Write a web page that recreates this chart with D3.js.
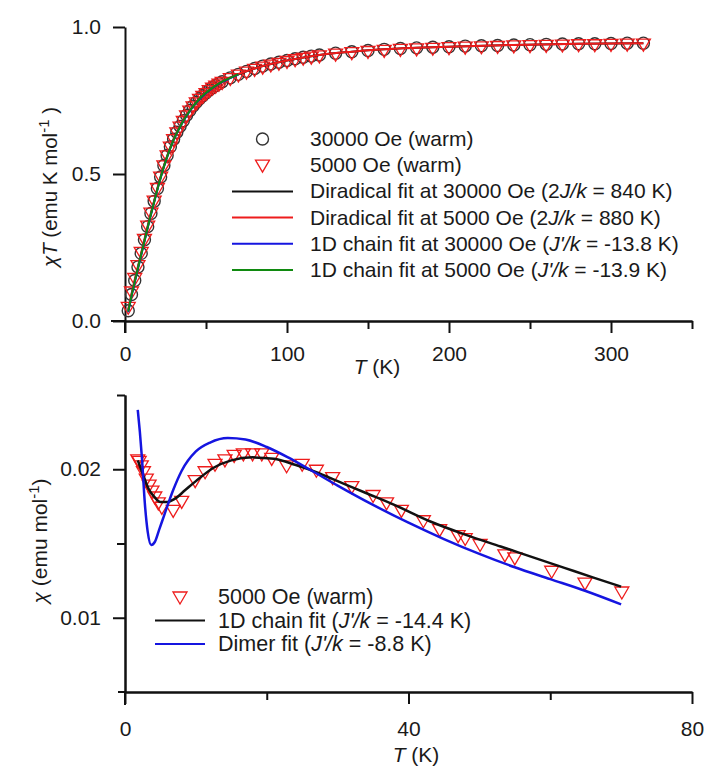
<!DOCTYPE html>
<html>
<head>
<meta charset="utf-8">
<script src="https://cdnjs.cloudflare.com/ajax/libs/d3/7.8.5/d3.min.js"></script>
<style>
body { margin: 0; background: #fff; }
text { font-family: "Liberation Sans", Arial, sans-serif; fill: #1a1a1a; }
</style>
</head>
<body>
<div id="root"></div>
<script>
/* top panel: chi*T vs T, measured points */
var topT = [2,4,6,8,10,12,14,16,18,20,22,24,26,28,30,32,34,36,38,40,42,44,46,48,50,52,54,56,58,60,
	65,70,75,80,85,90,95,100,105,110,115,120,
	130,140,150,160,170,180,190,200,210,220,230,240,250,260,270,280,290,300,310,320];
var chiT30000 = [0.035,0.09,0.138,0.184,0.23,0.276,0.321,0.366,0.407,0.451,0.49,0.529,0.563,0.593,0.618,0.642,0.662,0.681,0.70,0.716,0.731,0.744,0.756,0.766,0.776,0.786,0.794,0.801,0.808,0.814,
	0.827,0.839,0.849,0.859,0.867,0.874,0.88,0.886,0.892,0.897,0.901,0.905,
	0.911,0.916,0.92,0.924,0.927,0.929,0.931,0.933,0.935,0.936,0.937,0.939,0.94,0.941,0.942,0.943,0.943,0.944,0.945,0.945];
var chiT5000 = [0.05,0.102,0.148,0.192,0.237,0.281,0.326,0.37,0.411,0.454,0.493,0.531,0.565,0.595,0.62,0.643,0.663,0.682,0.701,0.717,0.732,0.745,0.757,0.767,0.777,0.787,0.795,0.802,0.809,0.815,
	0.828,0.84,0.85,0.859,0.867,0.874,0.88,0.886,0.892,0.897,0.901,0.905,
	0.911,0.916,0.92,0.924,0.927,0.929,0.931,0.933,0.935,0.936,0.937,0.939,0.94,0.941,0.942,0.943,0.943,0.944,0.945,0.945];

/* top panel fits */
var diradT = [2,4,6,8,10,12,15,18,21,25,30,35,40,45,50,60,70,80,90,100,120,140,160,180,200,240,280,320];
var diradFit30000 = [0.035,0.088,0.136,0.182,0.228,0.274,0.343,0.407,0.47,0.544,0.618,0.673,0.716,0.75,0.776,0.814,0.839,0.859,0.874,0.886,0.905,0.916,0.924,0.929,0.933,0.939,0.943,0.945];
var diradFit5000 = [0.04,0.092,0.14,0.186,0.232,0.278,0.346,0.409,0.472,0.545,0.619,0.674,0.717,0.751,0.777,0.815,0.84,0.859,0.874,0.886,0.905,0.916,0.924,0.929,0.933,0.939,0.943,0.945];
var chainT = [2,4,6,8,10,12,15,18,21,25,30,35,40,45,50,55,60,65,70];
var chainFit30000 = [0.03,0.083,0.131,0.178,0.224,0.27,0.339,0.404,0.467,0.541,0.615,0.67,0.714,0.749,0.775,0.796,0.813,0.826,0.838];
var chainFit5000 = [0.032,0.085,0.133,0.18,0.226,0.272,0.341,0.405,0.468,0.542,0.616,0.671,0.715,0.75,0.776,0.797,0.814,0.827,0.839];

/* bottom panel: chi vs T at 5000 Oe */
var botT = [1.8,2.0,2.3,2.6,3.0,3.4,3.8,4.2,4.7,5.2,6.8,8.0,9.9,11.3,12.7,14.1,15.4,16.7,18.0,19.3,20.7,22.8,25.0,27.0,29.3,32.0,35.0,36.9,39.0,42.1,44.4,47.0,48.0,50.1,53.6,55.0,60.2,64.9,70.1];
var chi5000 = [0.0207,0.0206,0.0203,0.0199,0.0194,0.019,0.0186,0.0182,0.0178,0.0175,0.0173,0.0179,0.0193,0.0199,0.0204,0.0207,0.021,0.0211,0.0211,0.0211,0.0208,0.0203,0.0204,0.02,0.0195,0.0189,0.0183,0.0178,0.0173,0.0166,0.016,0.0156,0.0154,0.015,0.0143,0.0141,0.0132,0.0124,0.0118];

var chainFitT = [1.8,2.5,3.3,4.2,5.0,6.0,7.0,8.5,10,12.5,15,18,21,24,27,30,34,38,43,48,53,58,62,66,70];
var chainFit = [0.0206,0.0197,0.0187,0.0181,0.0178,0.0178,0.018,0.0186,0.0192,0.0201,0.0206,0.0208,0.0207,0.0203,0.0198,0.0192,0.0184,0.0176,0.0165,0.0156,0.0148,0.014,0.01336,0.01272,0.0121];
var dimerFitT = [1.8,2.1,2.4,2.8,3.2,3.7,4.2,4.8,5.6,6.8,8,10,12,14.5,17,20,23,26,30,35,40,45,50,55,60,65,70];
var dimerFit = [0.024,0.0225,0.0207,0.0177,0.0158,0.0149,0.0151,0.0159,0.017,0.0186,0.0199,0.0212,0.0218,0.0221,0.022,0.0215,0.0208,0.02,0.0189,0.0176,0.0164,0.0153,0.0143,0.0134,0.0126,0.0118,0.0109];

var topTicksX = [0,100,200,300];
var topMinorX = [50,150,250,350];
var topTicksY = [0,0.5,1.0];
var botTicksX = [0,40,80];
var botMinorX = [20,60];
var botTicksY = [0.01,0.02];
var botMinorY = [0.015,0.025];

var width = 706;
var height = 769;

var svg = d3.select("#root")
.append("svg")
.attr("width", width)
.attr("height", height);

var RED = "#ee1c1c";
var BLUE = "#1515e0";
var GREEN = "#108a10";

var xTop = d3.scaleLinear().domain([0,350]).range([125,692]);
var yTop = d3.scaleLinear().domain([0,1]).range([321,27]);
var xBot = d3.scaleLinear().domain([0,80]).range([125,692]);
var yBot = d3.scaleLinear().domain([0.005,0.025]).range([692,395]);

var tri = "M-7,-4L7,-4L0,8Z";

/* draws one set of axes, with the little overhang where they cross */
function drawAxes(x, y, xt, xm, yt, ym, yfmt, xpad, overX, overY){
	var gx = svg.append("g").attr("transform", "translate(0," + y.range()[0] + ")");
	gx.call(d3.axisBottom(x).tickValues(xt).tickSize(12).tickSizeOuter(0).tickPadding(xpad));
	gx.append("g").call(d3.axisBottom(x).tickValues(xm).tickSize(8).tickSizeOuter(0).tickFormat(""));
	var gy = svg.append("g").attr("transform", "translate(" + x.range()[0] + ",0)");
	gy.call(d3.axisLeft(y).tickValues(yt).tickSize(12).tickSizeOuter(0).tickPadding(12).tickFormat(yfmt));
	if (ym) gy.append("g").call(d3.axisLeft(y).tickValues(ym).tickSize(8).tickSizeOuter(0).tickFormat(""));

	svg.append("line")
	.attr("x1", x.range()[0] - overX).attr("x2", x.range()[0])
	.attr("y1", y.range()[0]).attr("y2", y.range()[0]);
	svg.append("line")
	.attr("x1", x.range()[0]).attr("x2", x.range()[0])
	.attr("y1", y.range()[0]).attr("y2", y.range()[0] + overY);

	svg.selectAll("line").attr("stroke", "#111").attr("stroke-width", 2);
	svg.selectAll(".domain").attr("stroke", "#111").attr("stroke-width", 2);
	svg.selectAll(".tick text").attr("font-size", "21px").attr("fill", "#1a1a1a")
	.style("font-family", "'Liberation Sans', Arial, sans-serif");
}

drawAxes(xTop, yTop, topTicksX, topMinorX, topTicksY, null, d3.format(".1f"), 13, 14, 12);
drawAxes(xBot, yBot, botTicksX, botMinorX, botTicksY, botMinorY, d3.format(".2f"), 17, 7, 13);

/* axis titles */
var ylab1 = svg.append("text")
.attr("transform", "translate(57,187) rotate(-90)")
.attr("text-anchor", "middle")
.attr("font-size", "20.5px");
ylab1.append("tspan").attr("font-style", "italic").text("χT");
ylab1.append("tspan").text(" (emu K mol");
ylab1.append("tspan").attr("baseline-shift", "super").attr("font-size", "15px").text("-1");
ylab1.append("tspan").text(" )");

var ylab2 = svg.append("text")
.attr("transform", "translate(47,541) rotate(-90)")
.attr("text-anchor", "middle")
.attr("font-size", "21px");
ylab2.append("tspan").attr("font-style", "italic").text("χ");
ylab2.append("tspan").text(" (emu mol");
ylab2.append("tspan").attr("baseline-shift", "super").attr("font-size", "15px").text("-1");
ylab2.append("tspan").text(")");

function xTitle(cx, cy){
	var t = svg.append("text").attr("x", cx).attr("y", cy).attr("text-anchor", "middle").attr("font-size", "21px");
	t.append("tspan").attr("font-style", "italic").text("T");
	t.append("tspan").text(" (K)");
}
xTitle(377, 374);
xTitle(416, 762);

/* top panel markers */
var topPts30000 = topT.map(function(t, i){ return [t, chiT30000[i]]; });
var topPts5000 = topT.map(function(t, i){ return [t, chiT5000[i]]; });

svg.append("g")
.selectAll("circle")
.data(topPts30000)
.enter()
.append("circle")
.attr("cx", function(d){ return xTop(d[0]); })
.attr("cy", function(d){ return yTop(d[1]); })
.attr("r", 6)
.attr("fill", "none")
.attr("stroke", "#333")
.attr("stroke-width", 1.4);

svg.append("g")
.selectAll("path")
.data(topPts5000)
.enter()
.append("path")
.attr("d", tri)
.attr("transform", function(d){ return "translate(" + xTop(d[0]) + "," + yTop(d[1]) + ")"; })
.attr("fill", "none")
.attr("stroke", RED)
.attr("stroke-width", 1.3);

/* top panel fit lines */
function fitLine(x, y, ts, vs, color, w){
	var line = d3.line()
	.x(function(d){ return x(d[0]); })
	.y(function(d){ return y(d[1]); })
	.curve(d3.curveMonotoneX);
	svg.append("path")
	.datum(ts.map(function(t, i){ return [t, vs[i]]; }))
	.attr("fill", "none")
	.attr("stroke", color)
	.attr("stroke-width", w)
	.attr("d", line);
}
fitLine(xTop, yTop, diradT, diradFit30000, "#111", 2);
fitLine(xTop, yTop, diradT, diradFit5000, RED, 2);
fitLine(xTop, yTop, chainT, chainFit30000, BLUE, 2);
fitLine(xTop, yTop, chainT, chainFit5000, GREEN, 2);

/* bottom panel */
svg.append("g")
.selectAll("path")
.data(botT.map(function(t, i){ return [t, chi5000[i]]; }))
.enter()
.append("path")
.attr("d", tri)
.attr("transform", function(d){ return "translate(" + xBot(d[0]) + "," + yBot(d[1]) + ")"; })
.attr("fill", "none")
.attr("stroke", RED)
.attr("stroke-width", 1.3);

fitLine(xBot, yBot, chainFitT, chainFit, "#111", 2.5);
fitLine(xBot, yBot, dimerFitT, dimerFit, BLUE, 2.5);

/* legends */
var legTop = [
	{type: "circle", label: ["30000 Oe (warm)"]},
	{type: "tri", label: ["5000 Oe (warm)"]},
	{type: "line", color: "#111", label: ["Diradical fit at 30000 Oe (2", "J/k", " = 840 K)"]},
	{type: "line", color: RED, label: ["Diradical fit at 5000 Oe (2", "J/k", " = 880 K)"]},
	{type: "line", color: BLUE, label: ["1D chain fit at 30000 Oe (", "J'/k", " = -13.8 K)"]},
	{type: "line", color: GREEN, label: ["1D chain fit at 5000 Oe (", "J'/k", " = -13.9 K)"]}
];
var legBot = [
	{type: "tri", label: ["5000 Oe (warm)"]},
	{type: "line", color: "#111", label: ["1D chain fit (", "J'/k", " = -14.4 K)"]},
	{type: "line", color: BLUE, label: ["Dimer fit (", "J'/k", " = -8.8 K)"]}
];

function legend(items, x0, x1, tx, y0, dy, fs){
	var mx = (x0 + x1) / 2;
	items.forEach(function(it, i){
		var yy = y0 + i * dy;
		if (it.type == "circle") {
			svg.append("circle").attr("cx", mx).attr("cy", yy).attr("r", 6)
			.attr("fill", "none").attr("stroke", "#333").attr("stroke-width", 1.4);
		} else if (it.type == "tri") {
			svg.append("path").attr("d", tri).attr("transform", "translate(" + mx + "," + (yy - 1) + ")")
			.attr("fill", "none").attr("stroke", RED).attr("stroke-width", 1.3);
		} else {
			svg.append("line").attr("x1", x0).attr("x2", x1).attr("y1", yy).attr("y2", yy)
			.attr("stroke", it.color).attr("stroke-width", 2);
		}
		var t = svg.append("text").attr("x", tx).attr("y", yy + 7).attr("font-size", fs);
		it.label.forEach(function(s, j){
			t.append("tspan").attr("font-style", j == 1 ? "italic" : null).text(s);
		});
	});
}
legend(legTop, 232, 293, 310, 139, 26.2, "21px");
legend(legBot, 155, 205, 218, 597, 23.5, "21.5px");
</script>
</body>
</html>
